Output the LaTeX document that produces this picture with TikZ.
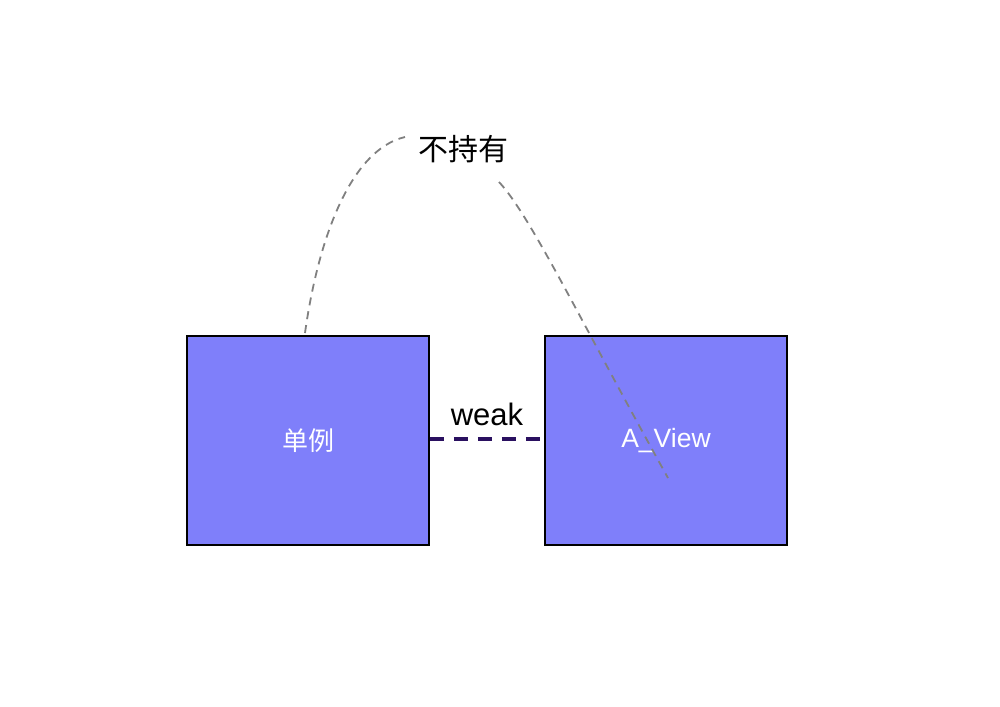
\documentclass[tikz,border=0pt]{standalone}
\usepackage{fontspec}
\setmainfont{Liberation Sans}
\newfontfamily\cjk{Noto Sans CJK SC}
\definecolor{boxfill}{RGB}{127,127,250}
\definecolor{weakline}{RGB}{42,16,96}
\definecolor{curvegray}{RGB}{128,128,128}
\tikzset{
  objbox/.style={draw=black, line width=1.5pt, fill=boxfill, minimum width=242pt, minimum height=209pt, inner sep=0pt, text=white},
  weakconn/.style={draw=weakline, line width=3.5pt, dash pattern=on 14pt off 10pt},
  holdcurve/.style={draw=curvegray, line width=1.8pt, dash pattern=on 8pt off 6pt},
}
\begin{document}
\begin{tikzpicture}[x=1pt,y=-1pt]
\useasboundingbox (0,0) rectangle (1000,706);
\node[objbox] (single) at (308,440.5) {\fontsize{26}{30}\selectfont\cjk 单例};
\node[objbox] (aview) at (666,440.5) {\fontsize{26.5}{30}\selectfont A\_View};
\draw[weakconn] (single.east |- 0,439) -- (aview.west |- 0,439);
\node (weak) at (487,414) {\fontsize{31}{34}\selectfont weak};
\node (nohold) at (463,149) {\fontsize{30}{34}\selectfont\cjk 不持有};
\coordinate (lstart) at (305,333);
\coordinate (lend) at (405,137);
\coordinate (rstart) at (499,182);
\coordinate (rend) at (668,478);
\draw[holdcurve] (lstart) .. controls (318,240) and (350,150) .. (lend);
\draw[holdcurve] (rstart) .. controls (530,215) and (580,320) .. (rend);
\end{tikzpicture}
\end{document}
